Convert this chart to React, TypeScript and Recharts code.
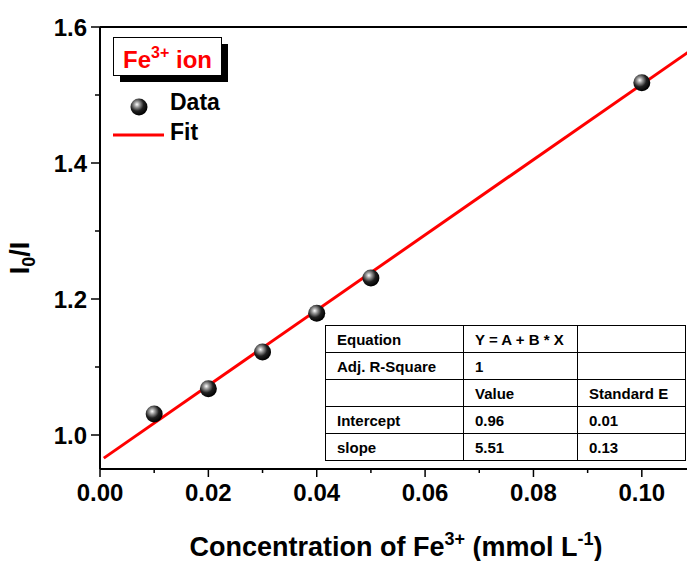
import { Scatter, ScatterChart, XAxis, YAxis } from 'recharts';

const concentration = [0.01, 0.02, 0.03, 0.04, 0.05, 0.1];
const ratio = [1.031, 1.068, 1.122, 1.179, 1.231, 1.518];
const fitX = [0.0007, 0.11];
const fitY = [0.966, 1.571];
const xTicks = [0, 0.01, 0.02, 0.03, 0.04, 0.05, 0.06, 0.07, 0.08, 0.09, 0.1, 0.11];
const yTicks = [1.0, 1.1, 1.2, 1.3, 1.4, 1.5, 1.6];
const tableRows = [
  ['Equation', 'Y = A + B * X', ''],
  ['Adj. R-Square', '1', ''],
  ['', 'Value', 'Standard E'],
  ['Intercept', '0.96', '0.01'],
  ['slope', '5.51', '0.13'],
];

const points = concentration.map((x, i) => ({ x, y: ratio[i] }));
const fit = fitX.map((x, i) => ({ x, y: fitY[i] }));

const FONT = '"Liberation Sans", Arial, sans-serif';
const isMajor = (v: number, step: number) => Math.abs(Math.round(v / step) * step - v) < 1e-6;

const Ball = (props: any) => (
  <circle cx={props.cx} cy={props.cy} r={8.5} fill="url(#ball)" />
);

const YTick = ({ x, y, payload }: any) => {
  const major = isMajor(payload.value, 0.2);
  return (
    <g>
      <line x1={x - (major ? 9 : 5)} x2={x} y1={y} y2={y} stroke="#000" strokeWidth={1.5} />
      {major && (
        <text x={x - 13} y={y + 8.5} textAnchor="end" fontSize={24} fontWeight="bold" fontFamily={FONT}>
          {payload.value.toFixed(1)}
        </text>
      )}
    </g>
  );
};

const XTick = ({ x, y, payload }: any) => {
  const major = isMajor(payload.value, 0.02);
  return (
    <g>
      <line x1={x} x2={x} y1={y} y2={y + (major ? 8 : 4)} stroke="#000" strokeWidth={1.5} />
      {major && (
        <text x={x} y={y + 32} textAnchor="middle" fontSize={24} fontWeight="bold" fontFamily={FONT}>
          {payload.value.toFixed(2)}
        </text>
      )}
    </g>
  );
};

const TopTick = ({ x, y }: any) => (
  <line x1={x} x2={x} y1={y} y2={y + 3} stroke="#000" strokeWidth={1.5} />
);

export default function App() {
  return (
    <div style={{ position: 'absolute', left: 0, top: 0, width: 687, height: 561, overflow: 'hidden', background: '#fff', fontFamily: FONT }}>
      <svg width={0} height={0} style={{ position: 'absolute' }}>
        <defs>
          <radialGradient id="ball" cx="38%" cy="35%" r="65%">
            <stop offset="0%" stopColor="#ffffff" />
            <stop offset="25%" stopColor="#9a9a9a" />
            <stop offset="60%" stopColor="#202020" />
            <stop offset="100%" stopColor="#000000" />
          </radialGradient>
        </defs>
      </svg>

      <ScatterChart width={696} height={561} margin={{ top: 0, right: 0, bottom: 22, left: 20 }}>
        <XAxis
          xAxisId="top"
          orientation="top"
          type="number"
          dataKey="x"
          domain={[0, 0.11]}
          ticks={xTicks}
          height={27}
          tickSize={0}
          tickMargin={0}
          tick={<TopTick />}
          axisLine={{ stroke: '#000', strokeWidth: 2 }}
          tickLine={false}
        />
        <XAxis
          xAxisId="bottom"
          type="number"
          dataKey="x"
          domain={[0, 0.11]}
          ticks={xTicks}
          height={70}
          tickSize={0}
          tickMargin={0}
          tick={<XTick />}
          axisLine={{ stroke: '#000', strokeWidth: 2 }}
          tickLine={false}
          interval={0}
        />
        <YAxis
          type="number"
          dataKey="y"
          domain={[0.95, 1.6]}
          ticks={yTicks}
          width={80}
          tickSize={0}
          tickMargin={0}
          tick={<YTick />}
          axisLine={{ stroke: '#000', strokeWidth: 2 }}
          tickLine={false}
          interval={0}
        />
        <Scatter
          xAxisId="bottom"
          data={fit}
          line={{ stroke: '#ff0000', strokeWidth: 3 }}
          shape={() => <g />}
          isAnimationActive={false}
        />
        <Scatter xAxisId="bottom" data={points} shape={<Ball />} isAnimationActive={false} />
      </ScatterChart>

      {/* legend */}
      <div style={{ position: 'absolute', left: 120, top: 44, width: 108, height: 38, background: '#000' }} />
      <div
        style={{
          position: 'absolute', left: 113, top: 37, width: 107, height: 37, background: '#fff',
          border: '1px solid #000', color: '#ff0000', fontWeight: 'bold', fontSize: 24,
          display: 'flex', alignItems: 'center', justifyContent: 'center', lineHeight: 1,
        }}
      >
        <span style={{ marginTop: 4 }}>
          Fe<sup style={{ fontSize: 16, verticalAlign: 10 }}>3+</sup> ion
        </span>
      </div>
      <svg width={60} height={60} style={{ position: 'absolute', left: 110, top: 90 }}>
        <circle cx={29} cy={17} r={8.5} fill="url(#ball)" />
        <line x1={3} x2={54} y1={45} y2={45} stroke="#ff0000" strokeWidth={3} />
      </svg>
      <div style={{ position: 'absolute', left: 170, top: 91, fontSize: 23, fontWeight: 'bold', lineHeight: 1 }}>Data</div>
      <div style={{ position: 'absolute', left: 170, top: 121, fontSize: 23, fontWeight: 'bold', lineHeight: 1 }}>Fit</div>

      {/* axis titles */}
      <div style={{ position: 'absolute', left: 0, width: 792, top: 530, textAlign: 'center', fontSize: 27, fontWeight: 'bold', lineHeight: 1, whiteSpace: 'nowrap' }}>
        Concentration of Fe<sup style={{ fontSize: 18, verticalAlign: 11 }}>3+</sup> (mmol L<sup style={{ fontSize: 18, verticalAlign: 11 }}>-1</sup>)
      </div>
      <div
        style={{
          position: 'absolute', left: 22, top: 258, fontSize: 27, fontWeight: 'bold', lineHeight: 1,
          transform: 'translate(-50%, -50%) rotate(-90deg)', whiteSpace: 'nowrap',
        }}
      >
        I<sub style={{ fontSize: 18, verticalAlign: -6 }}>0</sub>/I
      </div>

      {/* fit table */}
      <table
        style={{
          position: 'absolute', left: 325, top: 325, width: 360, height: 134, borderCollapse: 'collapse',
          fontSize: 15, fontWeight: 'bold', fontFamily: FONT, tableLayout: 'fixed',
        }}
      >
        <colgroup>
          <col style={{ width: 138 }} />
          <col style={{ width: 114 }} />
          <col style={{ width: 108 }} />
        </colgroup>
        <tbody>
          {tableRows.map((row, r) => (
            <tr key={r}>
              {row.map((c, j) => (
                <td key={j} style={{ border: '1.5px solid #000', padding: '0 0 0 11px', height: 26, whiteSpace: 'nowrap', overflow: 'hidden' }}>
                  {c}
                </td>
              ))}
            </tr>
          ))}
        </tbody>
      </table>
    </div>
  );
}
